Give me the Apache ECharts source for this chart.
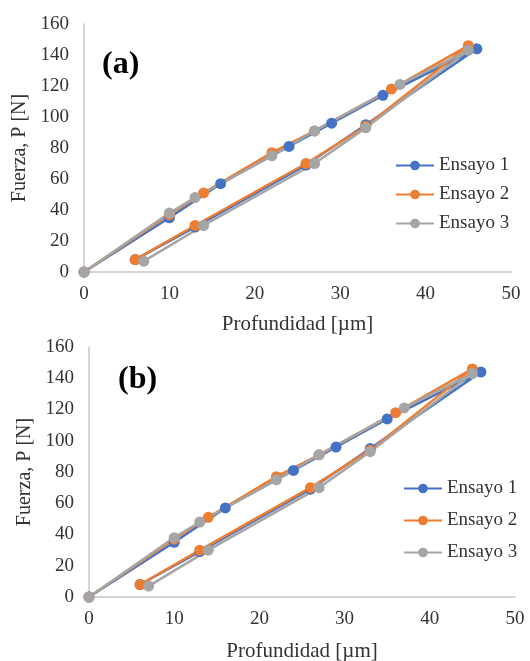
<!DOCTYPE html>
<html>
<head>
<meta charset="utf-8">
<script src="https://cdn.jsdelivr.net/npm/echarts@6/dist/echarts.min.js"></script>
<style>
  html, body { margin: 0; padding: 0; background: #fff; }
  #main { width: 530px; height: 661px; }
</style>
</head>
<body>
<div id="main"></div>
<script>
// datos (carga y descarga)
var seriesNames = ['Ensayo 1', 'Ensayo 2', 'Ensayo 3']
var ens1X = [0, 10, 16, 24, 29, 35, 46, 33, 26, 13, 6]
var ens1Y = [0, 35, 57, 81, 96, 114, 144, 95, 69, 29, 8]
var ens2X = [0, 10, 14, 22, 27, 36, 45, 33, 26, 13, 6]
var ens2Y = [0, 37, 51, 77, 91, 118, 146, 94, 70, 30, 8]
var ens3X = [0, 10, 13, 22, 27, 37, 45, 33, 27, 14, 7]
var ens3Y = [0, 38, 48, 75, 91, 121, 143, 93, 70, 30, 7]
var panelLabels = ['(a)', '(b)']

var colors = ['#4472C4', '#ED7D31', '#A5A5A5']
var font = '"Liberation Serif", "Times New Roman", serif'
var textColor = '#333333'
var xs = [ens1X, ens2X, ens3X]
var ys = [ens1Y, ens2Y, ens3Y]

function pairs (x, y) {
  return x.map(function (v, i) { return [v, y[i]] })
}

function xAxisOf (idx, gap) {
  return {
    type: 'value',
    gridIndex: idx,
    min: 0,
    max: 50,
    interval: 10,
    name: 'Profundidad [µm]',
    nameLocation: 'middle',
    nameGap: gap,
    nameTextStyle: { fontFamily: font, fontSize: 21, color: textColor },
    axisLine: { show: true, lineStyle: { color: '#C8C8C8', width: 1.5 } },
    axisTick: { show: false },
    splitLine: { show: false },
    axisLabel: { fontFamily: font, fontSize: 19, color: textColor, margin: 13 }
  }
}

function yAxisOf (idx, gap) {
  return {
    type: 'value',
    gridIndex: idx,
    min: 0,
    max: 160,
    interval: 20,
    name: 'Fuerza, P [N]',
    nameLocation: 'middle',
    nameGap: gap,
    nameTextStyle: { fontFamily: font, fontSize: 20, color: textColor },
    axisLine: { show: true, lineStyle: { color: '#C8C8C8', width: 1.5 } },
    axisTick: { show: false },
    splitLine: { show: false },
    axisLabel: { fontFamily: font, fontSize: 19, color: textColor, margin: 15 }
  }
}

var series = []
;[0, 1].forEach(function (p) {
  seriesNames.forEach(function (name, i) {
    series.push({
      name: name,
      type: 'line',
      xAxisIndex: p,
      yAxisIndex: p,
      data: pairs(xs[i], ys[i]),
      symbol: 'circle',
      symbolSize: 11,
      color: colors[i],
      lineStyle: { width: 2.5, color: colors[i] },
      itemStyle: { color: colors[i] }
    })
  })
})

var option = {
  animation: false,
  backgroundColor: '#fff',
  title: [
    { text: panelLabels[0], left: 97, top: 44, textStyle: { fontFamily: font, fontSize: 32, fontWeight: 'bold', color: '#000' } },
    { text: panelLabels[1], left: 113, top: 359, textStyle: { fontFamily: font, fontSize: 32, fontWeight: 'bold', color: '#000' } }
  ],
  grid: [
    { left: 84, right: 19, top: 24, bottom: 389, outerBoundsMode: 'none' },
    { left: 89, right: 15, top: 347, bottom: 64, outerBoundsMode: 'none' }
  ],
  legend: [
    {
      data: seriesNames, orient: 'vertical', left: 390, top: 151,
      itemWidth: 38, itemHeight: 12, itemGap: 10,
      textStyle: { fontFamily: font, fontSize: 19, color: textColor }
    },
    {
      data: seriesNames, orient: 'vertical', left: 398, top: 474,
      itemWidth: 38, itemHeight: 12, itemGap: 13,
      textStyle: { fontFamily: font, fontSize: 19, color: textColor }
    }
  ],
  xAxis: [xAxisOf(0, 42), xAxisOf(1, 44)],
  yAxis: [yAxisOf(0, 51), yAxisOf(1, 50)],
  series: series
}

var chart = echarts.init(document.getElementById('main'))
chart.setOption(option)
window.addEventListener('resize', function () { chart.resize() })
</script>
</body>
</html>
